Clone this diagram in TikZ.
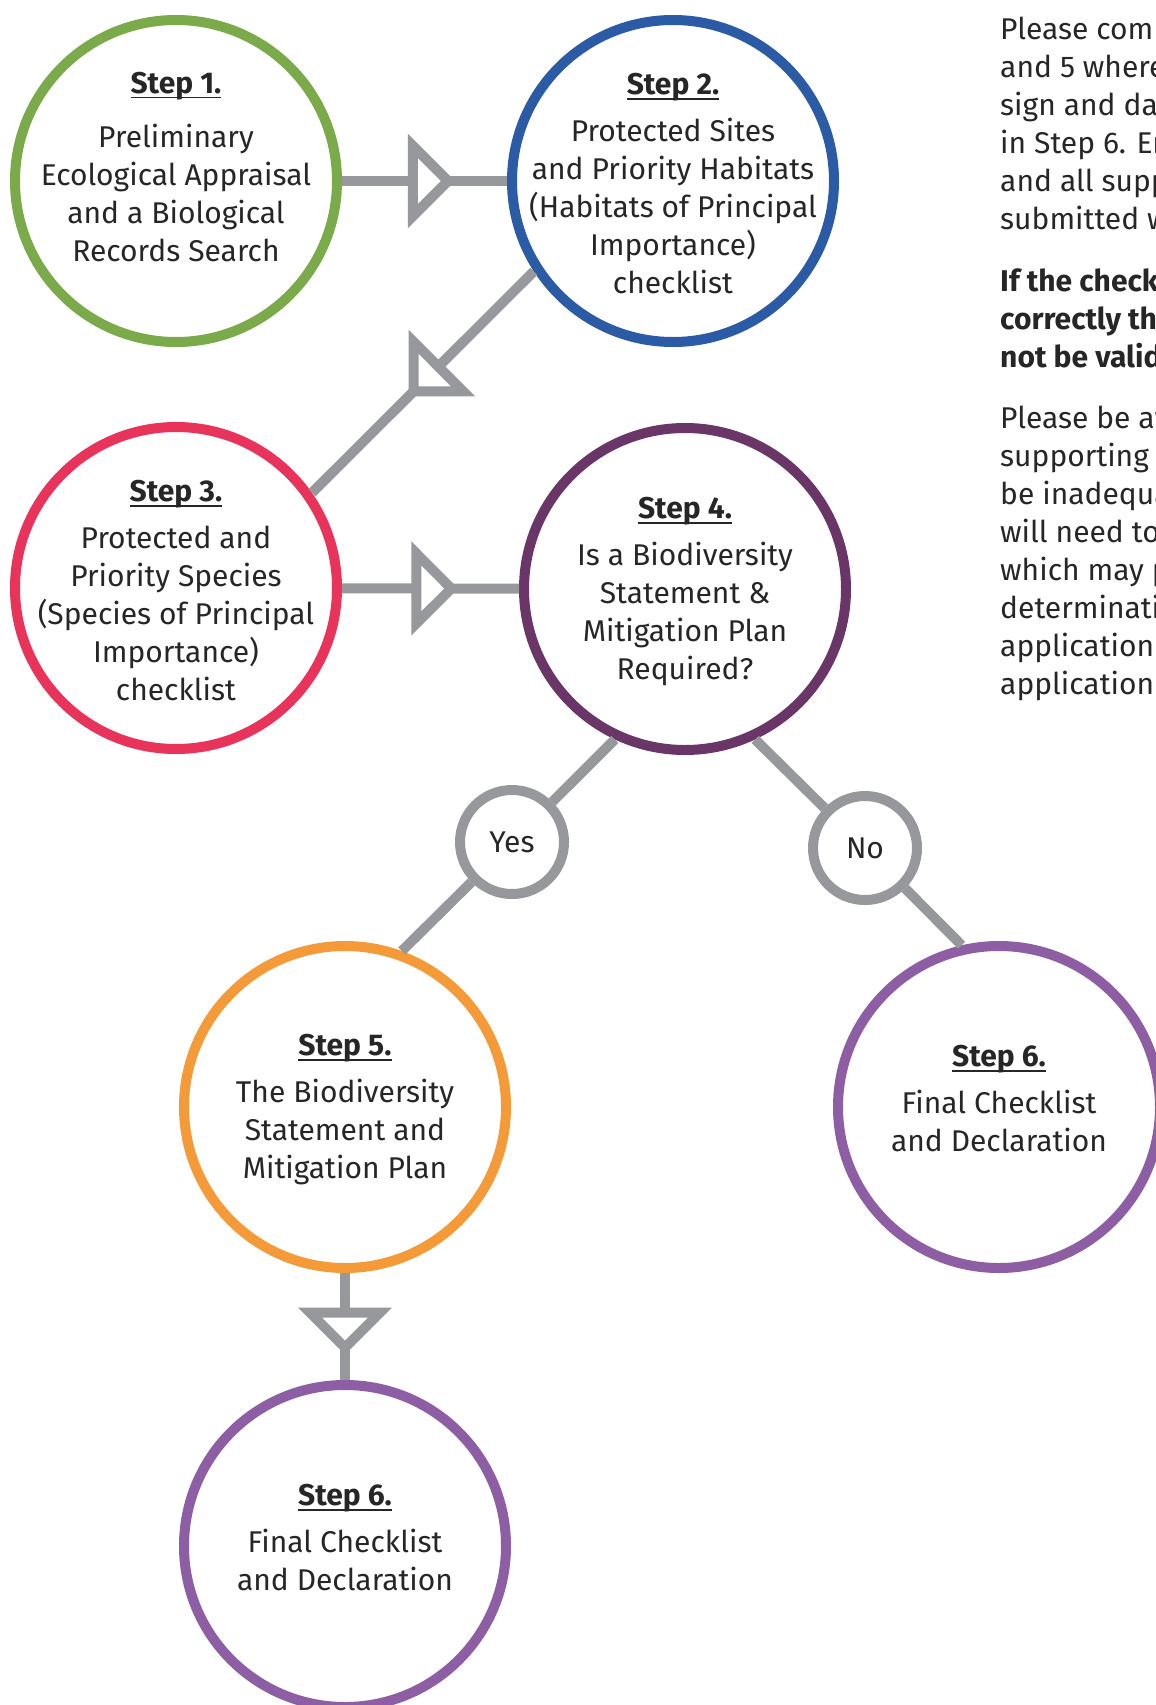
\documentclass[tikz,border=0pt]{standalone}
\usepackage{fontspec}
\setmainfont{Fira Sans}
\usetikzlibrary{decorations.markings}

\definecolor{stepgreen}{RGB}{122,170,74}
\definecolor{stepblue}{RGB}{43,91,165}
\definecolor{stepred}{RGB}{232,52,90}
\definecolor{stepplum}{RGB}{106,53,103}
\definecolor{steporange}{RGB}{245,154,56}
\definecolor{stepviolet}{RGB}{142,94,165}
\definecolor{linkgray}{RGB}{151,152,155}
\definecolor{txtgray}{RGB}{38,38,38}

\newcommand\stephead[1]{\setbox0\hbox{\bfseries #1}\rlap{\rule[-5pt]{\wd0}{1.6pt}}\box0}

\tikzset{
  stepcirc/.style={circle, draw=#1, line width=10pt, minimum size=322pt, inner sep=0pt, fill=white},
  steptext/.style={align=center, text=txtgray, font=\fontsize{30}{38}\selectfont},
  answer/.style={circle, draw=linkgray, line width=10pt, minimum size=104pt, inner sep=0pt,
    fill=white, text=txtgray, font=\fontsize{30}{38}\selectfont},
  notes/.style={align=left, anchor=base west, inner sep=0pt, text=txtgray, font=\fontsize{30}{38}\selectfont},
  link/.style={draw=linkgray, line width=10pt},
  midtri/.style={postaction={decorate, decoration={markings, mark=at position #1 with
    {\draw[linkgray, line width=10pt, fill=white, line join=miter] (0,-35) -- (35,0) -- (0,35) -- cycle;}}}}
}

\begin{document}
\begin{tikzpicture}[x=1pt, y=-1pt]
      \useasboundingbox (0,0) rectangle (1156,1705);
      %
      \node[stepcirc=stepgreen]  (s1) at (176,181) {};     % top row
      \node[stepcirc=stepblue]   (s2) at (673,181) {};
      \node[stepcirc=stepred]    (s3) at (176,588) {};     % second row
      \node[stepcirc=stepplum]   (s4) at (685,589) {};
      \node[stepcirc=steporange] (s5) at (345,1107) {};    % third row
      \node[stepcirc=stepviolet] (s6r) at (999,1107) {};
      \node[stepcirc=stepviolet] (s6b) at (345,1546) {};   % last
      %
      \node[answer] (yes) at (512,842) {Yes};
      \node[answer] (no) at (865,848) {No};
      %
      \draw[link, midtri=0.43] (s1) -- (s2);               % links
      \draw[link, midtri=0.43] (s2.213) -- (s3.35);
      \draw[link, midtri=0.42] (s3) -- (s4);
      \draw[link] (s4.245) -- (yes);
      \draw[link] (yes) -- (s5.70);
      \draw[link] (s4.295) -- (no);
      \draw[link] (no) -- (s6r.103);
      \draw[link, midtri=0.37] (s5) -- (s6b);
      %
      \node[steptext, yshift=14pt] (t1) at (s1) {\stephead{Step 1.}\\[16pt] Preliminary\\ Ecological Appraisal\\ and a Biological\\ Records Search};
      \node[steptext, yshift=-3pt] (t2) at (s2) {\stephead{Step 2.}\\[9pt] Protected Sites\\ and Priority Habitats\\ (Habitats of Principal\\ Importance)\\ checklist};
      \node[steptext, yshift=-3pt] (t3) at (s3) {\stephead{Step 3.}\\[9pt] Protected and\\ Priority Species\\ (Species of Principal\\ Importance)\\ checklist};
      \node[steptext, yshift=-3pt] (t4) at (s4) {\stephead{Step 4.}\\[9pt] Is a Biodiversity\\ Statement \&\\ Mitigation Plan\\ Required?};
      \node[steptext, yshift=-3pt] (t5) at (s5) {\stephead{Step 5.}\\[9pt] The Biodiversity\\ Statement and\\ Mitigation Plan};
      \node[steptext, yshift=8pt] (t6r) at (s6r) {\stephead{Step 6.}\\[9pt] Final Checklist\\ and Declaration};
      \node[steptext, yshift=8pt] (t6b) at (s6b) {\stephead{Step 6.}\\[9pt] Final Checklist\\ and Declaration};
      %
      \node[notes] (p1) at (1000,229) {Please comp\\ and 5 where\\ sign and da\\ in Step 6. En\\ and all supp\\ submitted w};          % last baselines
      \node[notes, font=\fontsize{30}{38}\selectfont\bfseries] (p2) at (1000,367) {If the check\\ correctly th\\ not be valid};
      \node[notes] (p3) at (1000,694) {Please be aw\\ supporting\\ be inadequa\\ will need to\\ which may p\\ determinati\\ application\\ application};
      %
\end{tikzpicture}
\end{document}
